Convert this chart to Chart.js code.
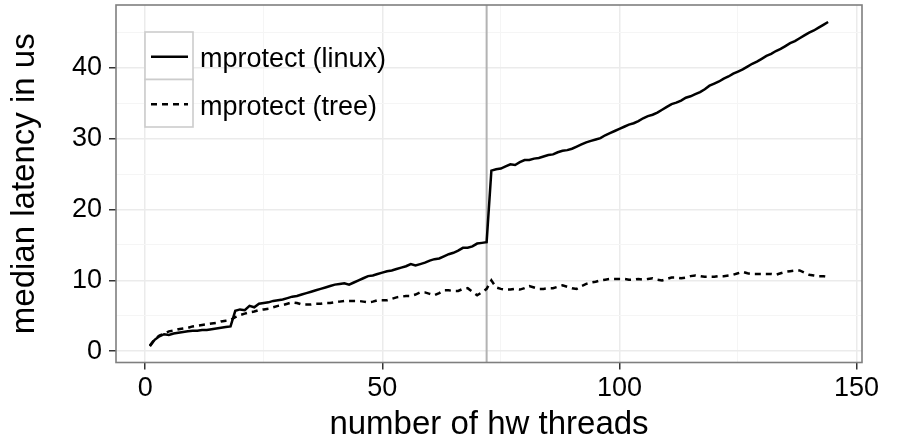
<!DOCTYPE html>
<html>
<head>
<meta charset="utf-8">
<script src="https://cdn.jsdelivr.net/npm/chart.js@4/dist/chart.umd.min.js"></script>
<style>
  body { margin: 0; background: #fff; }
  canvas { display: block; }
</style>
</head>
<body>
<canvas id="c" width="899" height="446"></canvas>
<script>
// ====== DATA ======
const threads = [
  1, 2, 3, 4, 5, 6, 7, 8, 9, 10, 11, 12, 13, 14, 15, 16, 17, 18, 19, 20,
  21, 22, 23, 24, 25, 26, 27, 28, 29, 30, 31, 32, 33, 34, 35, 36, 37, 38, 39, 40,
  41, 42, 43, 44, 45, 46, 47, 48, 49, 50, 51, 52, 53, 54, 55, 56, 57, 58, 59, 60,
  61, 62, 63, 64, 65, 66, 67, 68, 69, 70, 71, 72, 73, 74, 75, 76, 77, 78, 79, 80,
  81, 82, 83, 84, 85, 86, 87, 88, 89, 90, 91, 92, 93, 94, 95, 96, 97, 98, 99, 100,
  101, 102, 103, 104, 105, 106, 107, 108, 109, 110, 111, 112, 113, 114, 115, 116, 117, 118, 119, 120,
  121, 122, 123, 124, 125, 126, 127, 128, 129, 130, 131, 132, 133, 134, 135, 136, 137, 138, 139, 140,
  141, 142, 143, 144
];
const linuxLatency = [
  0.7, 1.6, 2.1, 2.4, 2.3, 2.5, 2.6, 2.7, 2.8, 2.9, 2.9, 3.0, 3.0, 3.1, 3.2, 3.3, 3.4, 3.5, 5.7, 5.9,
  5.8, 6.4, 6.2, 6.7, 6.8, 6.9, 7.1, 7.2, 7.3, 7.5, 7.7, 7.8, 8.0, 8.2, 8.4, 8.6, 8.8, 9.0, 9.2, 9.4,
  9.5, 9.6, 9.4, 9.7, 10.0, 10.3, 10.6, 10.7, 10.9, 11.1, 11.3, 11.4, 11.6, 11.8, 12.0, 12.3, 12.1, 12.3, 12.5, 12.8,
  13.0, 13.1, 13.4, 13.7, 13.9, 14.2, 14.6, 14.6, 14.8, 15.2, 15.3, 15.4, 25.5, 25.7, 25.8, 26.1, 26.4, 26.3, 26.7, 27.0,
  27.0, 27.2, 27.3, 27.5, 27.7, 27.8, 28.1, 28.3, 28.4, 28.6, 28.9, 29.2, 29.5, 29.7, 29.9, 30.1, 30.5, 30.8, 31.1, 31.4,
  31.7, 32.0, 32.2, 32.5, 32.9, 33.2, 33.4, 33.7, 34.1, 34.5, 34.9, 35.1, 35.4, 35.8, 36.0, 36.3, 36.6, 37.0, 37.5, 37.8,
  38.1, 38.5, 38.8, 39.2, 39.5, 39.8, 40.2, 40.6, 40.9, 41.3, 41.7, 42.0, 42.4, 42.7, 43.1, 43.5, 43.8, 44.2, 44.6, 45.0,
  45.3, 45.7, 46.1, 46.5
];
const treeLatency = [
  0.8, 1.7, 2.2, 2.5, 2.8, 2.9, 3.1, 3.2, 3.3, 3.5, 3.6, 3.7, 3.8, 3.9, 4.0, 4.2, 4.3, 4.4, 4.8, 5.1,
  5.3, 5.5, 5.6, 5.8, 5.9, 6.0, 6.2, 6.4, 6.5, 6.7, 6.9, 6.8, 6.6, 6.6, 6.6, 6.7, 6.7, 6.8, 6.8, 6.9,
  7.0, 7.1, 7.1, 7.1, 7.1, 7.0, 6.9, 7.0, 7.2, 7.2, 7.2, 7.4, 7.6, 7.7, 7.8, 7.8, 8.0, 8.3, 8.3, 8.1,
  7.9, 8.2, 8.6, 8.6, 8.5, 8.5, 8.8, 8.9, 8.4, 7.9, 8.3, 8.8, 10.0, 9.0, 8.8, 8.7, 8.7, 8.8, 8.7, 8.9,
  9.2, 9.0, 8.8, 8.8, 8.9, 8.9, 9.1, 9.3, 9.1, 8.9, 8.8, 9.2, 9.5, 9.7, 9.8, 10.0, 10.1, 10.2, 10.2, 10.2,
  10.2, 10.1, 10.1, 10.2, 10.1, 10.2, 10.3, 10.1, 10.0, 10.2, 10.4, 10.4, 10.3, 10.4, 10.6, 10.7, 10.6, 10.5, 10.5, 10.5,
  10.6, 10.6, 10.7, 10.8, 11.0, 11.2, 11.0, 10.9, 10.9, 10.9, 10.9, 10.9, 10.8, 11.0, 11.2, 11.3, 11.4, 11.4, 11.1, 10.8,
  10.7, 10.6, 10.6, 10.5
];
const seriesNames = ['mprotect (linux)', 'mprotect (tree)'];
const splitAt = 72; // vertical marker (threads per socket)

// ====== STYLE ======
const FONT = '"Liberation Sans", Arial, sans-serif';
const toPoints = ys => threads.map((x, i) => ({ x, y: ys[i] }));

// ====== PLUGINS ======
const markerLine = {
  id: 'markerLine',
  beforeDatasetsDraw(chart) {
    const { ctx, chartArea: a, scales: { x } } = chart;
    const px = x.getPixelForValue(splitAt);
    ctx.save();
    ctx.strokeStyle = '#b3b3b3';
    ctx.lineWidth = 2;
    ctx.beginPath();
    ctx.moveTo(px, a.top);
    ctx.lineTo(px, a.bottom);
    ctx.stroke();
    ctx.restore();
  }
};

const panelAndLegend = {
  id: 'panelAndLegend',
  afterDraw(chart) {
    const { ctx, chartArea: a } = chart;
    ctx.save();
    // panel border
    ctx.strokeStyle = '#7f7f7f';
    ctx.lineWidth = 1.6;
    ctx.strokeRect(a.left, a.top, a.right - a.left, a.bottom - a.top);

    // legend keys
    const kx = 145, ky = 32, kw = 48, kh = 47.5;
    const dashes = [[], [6, 5]];
    seriesNames.forEach((name, i) => {
      const top = ky + i * kh;
      ctx.fillStyle = '#fff';
      ctx.fillRect(kx, top, kw, kh);
      ctx.strokeStyle = '#cccccc';
      ctx.lineWidth = 1.6;
      ctx.setLineDash([]);
      ctx.strokeRect(kx, top, kw, kh);
      ctx.strokeStyle = '#000';
      ctx.lineWidth = 2.5;
      ctx.setLineDash(dashes[i]);
      ctx.beginPath();
      ctx.moveTo(kx + 6, top + kh / 2 + 1);
      ctx.lineTo(kx + kw - 5, top + kh / 2 + 1);
      ctx.stroke();
      ctx.setLineDash([]);
      ctx.fillStyle = '#000';
      ctx.font = '27px ' + FONT;
      ctx.textBaseline = 'alphabetic';
      ctx.textAlign = 'left';
      ctx.fillText(name, 200, top + 35);
    });
    ctx.restore();
  }
};

// ====== CHART ======
const major = (v, step) => Math.abs(v % step) < 1e-6;
const noPad = s => { s.paddingTop = 0; s.paddingBottom = 0; s.paddingLeft = 0; s.paddingRight = 0; };

new Chart(document.getElementById('c'), {
  type: 'line',
  data: {
    datasets: [
      { label: seriesNames[0], data: toPoints(linuxLatency), borderColor: '#000',
        borderWidth: 2.5, pointRadius: 0, tension: 0, fill: false },
      { label: seriesNames[1], data: toPoints(treeLatency), borderColor: '#000',
        borderWidth: 2.5, borderDash: [6, 5], pointRadius: 0, tension: 0, fill: false }
    ]
  },
  options: {
    responsive: false,
    animation: false,
    events: [],
    layout: { padding: { top: 5, right: 37, left: 0, bottom: 0 } },
    plugins: { legend: { display: false }, tooltip: { enabled: false } },
    scales: {
      x: {
        type: 'linear',
        min: -6.15,
        max: 151.15,
        afterFit: s => { s.height = 83.5; noPad(s); },
        border: { display: false },
        grid: {
          color: c => major(c.tick.value, 50) ? '#ebebeb' : '#f5f5f5',
          lineWidth: c => major(c.tick.value, 50) ? 1.5 : 1,
          tickColor: c => major(c.tick.value, 50) ? '#333' : 'rgba(0,0,0,0)',
          tickWidth: 1.5,
          tickLength: 7
        },
        ticks: {
          stepSize: 25,
          includeBounds: false,
          autoSkip: false,
          maxRotation: 0,
          padding: 3,
          color: '#000',
          font: { family: FONT, size: 27 },
          callback: v => major(v, 50) ? String(v) : ''
        },
        title: {
          display: true,
          text: 'number of hw threads',
          color: '#000',
          font: { family: FONT, size: 33 },
          padding: { top: 0, bottom: 1 }
        }
      },
      y: {
        type: 'linear',
        min: -1.6,
        max: 48.9,
        afterFit: s => { s.width = 116; noPad(s); },
        border: { display: false },
        grid: {
          color: c => major(c.tick.value, 10) ? '#ebebeb' : '#f5f5f5',
          lineWidth: c => major(c.tick.value, 10) ? 1.5 : 1,
          tickColor: c => major(c.tick.value, 10) ? '#333' : 'rgba(0,0,0,0)',
          tickWidth: 1.5,
          tickLength: 7
        },
        ticks: {
          stepSize: 5,
          includeBounds: false,
          autoSkip: false,
          padding: 7,
          color: '#000',
          font: { family: FONT, size: 27 },
          callback: v => major(v, 10) ? String(v) : ''
        },
        title: {
          display: true,
          text: 'median latency in us',
          color: '#000',
          font: { family: FONT, size: 33 },
          padding: { top: 5, bottom: 0 }
        }
      }
    }
  },
  plugins: [markerLine, panelAndLegend]
});
</script>
</body>
</html>
